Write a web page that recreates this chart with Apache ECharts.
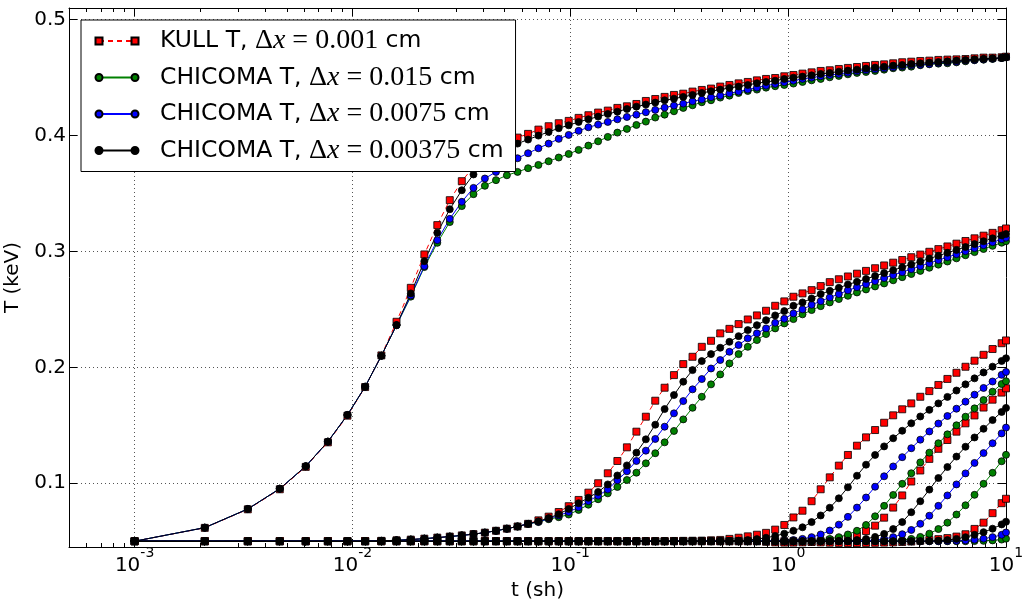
<!DOCTYPE html>
<html><head><meta charset="utf-8">
<script src="https://cdn.jsdelivr.net/npm/echarts/dist/echarts.min.js"></script>
<style>html,body{margin:0;padding:0;background:#fff}#c{width:1024px;height:601px}</style>
</head><body><div id="c"></div>
<script>
// time samples (sh)
const tSh = [0.001,0.0021,0.00331,0.004641,0.006105,0.007716,0.009487,0.011436,0.013579,0.015937,
0.018531,0.021384,0.024523,0.027975,0.031772,0.03595,0.040545,0.045599,0.051159,0.057275,
0.064003,0.071403,0.079543,0.088497,0.098347,0.109182,0.1211,0.13421,0.148631,0.164494,
0.181943,0.201138,0.222252,0.245477,0.271024,0.299127,0.33004,0.364043,0.401448,0.442593,
0.487852,0.537637,0.592401,0.652641,0.718905,0.791795,0.871975,0.960172,1.05719,1.163909,
1.281299,1.410429,1.552472,1.708719,1.880591,2.069651,2.2776,2.506377,2.758014,3.034816,
3.339298,3.674228,4.042651,4.447916,4.893708,5.384078,5.923486,6.516834,7.169518,7.88747,
8.677217,9.549938,10.0];

// KULL T, dx=0.001 cm
const kull1 = [0.05,0.0615,0.0775,0.0948,0.1141,0.1353,0.1583,0.1830,0.2103,0.2393,
0.2686,0.2974,0.3227,0.3442,0.3606,0.3730,0.3820,0.3885,0.3937,0.3982,
0.4014,0.4051,0.4080,0.4106,0.4126,0.4152,0.4175,0.4198,0.4215,0.4238,
0.4252,0.4272,0.4298,0.4315,0.4333,0.4350,0.4361,0.4379,0.4393,0.4405,
0.4422,0.4436,0.4450,0.4462,0.4476,0.4488,0.4496,0.4511,0.4522,0.4534,
0.4545,0.4557,0.4563,0.4574,0.4583,0.4591,0.4600,0.4609,0.4614,0.4623,
0.4632,0.4637,0.4643,0.4646,0.4652,0.4655,0.4657,0.4660,0.4666,0.4672,
0.4672,0.4675,0.4680];
const kull2 = [0.05,0.05,0.05,0.05,0.05,0.05,0.05,0.05,0.0503,0.0508,
0.0514,0.0522,0.0531,0.0540,0.0550,0.0561,0.0574,0.0590,0.0608,0.0627,
0.0650,0.0680,0.0712,0.0752,0.0802,0.0856,0.0919,0.1000,0.1086,0.1192,
0.1310,0.1445,0.1574,0.1712,0.1824,0.1933,0.2028,0.2091,0.2177,0.2229,
0.2293,0.2332,0.2373,0.2413,0.2448,0.2488,0.2531,0.2569,0.2609,0.2638,
0.2666,0.2701,0.2735,0.2760,0.2784,0.2808,0.2832,0.2855,0.2879,0.2903,
0.2926,0.2950,0.2973,0.2997,0.3020,0.3043,0.3067,0.3090,0.3113,0.3136,
0.3160,0.3183,0.3198];
const kull3 = [0.05,0.05,0.05,0.05,0.05,0.05,0.05,0.05,0.05,0.05,
0.05,0.05,0.05,0.05,0.05,0.05,0.05,0.05,0.05,0.05,
0.05,0.05,0.05,0.05,0.05,0.05,0.05,0.05,0.05,0.05,
0.05,0.05,0.05,0.05,0.05,0.0502,0.0503,0.0504,0.0505,0.0508,
0.0511,0.0520,0.0530,0.0542,0.0556,0.0572,0.0600,0.0640,0.0705,0.0763,
0.0845,0.0948,0.1051,0.1152,0.1244,0.1324,0.1396,0.1459,0.1522,0.1586,
0.1638,0.1689,0.1746,0.1795,0.1848,0.1900,0.1953,0.2005,0.2057,0.2108,
0.2158,0.2208,0.2232];
const kull4 = [0.05,0.05,0.05,0.05,0.05,0.05,0.05,0.05,0.05,0.05,
0.05,0.05,0.05,0.05,0.05,0.05,0.05,0.05,0.05,0.05,
0.05,0.05,0.05,0.05,0.05,0.05,0.05,0.05,0.05,0.05,
0.05,0.05,0.05,0.05,0.05,0.05,0.05,0.05,0.05,0.05,
0.05,0.05,0.05,0.05,0.05,0.0495,0.0490,0.0488,0.0488,0.0490,
0.0494,0.0500,0.0507,0.0515,0.0527,0.0548,0.0588,0.0634,0.0703,0.0790,
0.0895,0.1015,0.1110,0.1210,0.1297,0.1373,0.1445,0.1517,0.1585,0.1653,
0.1721,0.1782,0.1819];
const kull5 = [0.05,0.05,0.05,0.05,0.05,0.05,0.05,0.05,0.05,0.05,
0.05,0.05,0.05,0.05,0.05,0.05,0.05,0.05,0.05,0.05,
0.05,0.05,0.05,0.05,0.05,0.05,0.05,0.05,0.05,0.05,
0.05,0.05,0.05,0.05,0.05,0.05,0.05,0.05,0.05,0.05,
0.05,0.05,0.05,0.05,0.05,0.05,0.05,0.05,0.05,0.05,
0.0495,0.0490,0.0487,0.0485,0.0484,0.0484,0.0485,0.0486,0.0488,0.0490,
0.0493,0.0497,0.0503,0.0510,0.0518,0.0527,0.0540,0.0560,0.0606,0.0660,
0.0742,0.0828,0.0866];

// CHICOMA T, dx=0.015 cm
const c015_1 = [0.05,0.0617,0.0778,0.0953,0.1147,0.1359,0.1589,0.1833,0.2100,0.2364,
0.2610,0.2865,0.3074,0.3253,0.3391,0.3494,0.3566,0.3615,0.3657,0.3686,
0.3718,0.3746,0.3778,0.3810,0.3841,0.3876,0.3913,0.3950,0.3988,0.4025,
0.4057,0.4091,0.4120,0.4155,0.4180,0.4209,0.4238,0.4261,0.4287,0.4304,
0.4327,0.4344,0.4367,0.4384,0.4396,0.4413,0.4425,0.4436,0.4448,0.4462,
0.4476,0.4488,0.4502,0.4514,0.4528,0.4540,0.4548,0.4557,0.4568,0.4580,
0.4586,0.4594,0.4606,0.4614,0.4620,0.4623,0.4631,0.4640,0.4649,0.4654,
0.4660,0.4669,0.4677];
const c015_2 = [0.05,0.05,0.05,0.05,0.05,0.05,0.05,0.05,0.0503,0.0508,
0.0514,0.0522,0.0531,0.0540,0.0550,0.0561,0.0574,0.0590,0.0608,0.0627,
0.0650,0.0665,0.0690,0.0707,0.0730,0.0770,0.0815,0.0862,0.0913,0.0968,
0.1028,0.1091,0.1172,0.1259,0.1353,0.1451,0.1551,0.1651,0.1746,0.1853,
0.1939,0.2034,0.2114,0.2177,0.2235,0.2287,0.2336,0.2379,0.2416,0.2457,
0.2494,0.2528,0.2560,0.2589,0.2617,0.2646,0.2672,0.2698,0.2724,0.2751,
0.2778,0.2805,0.2832,0.2859,0.2886,0.2913,0.2940,0.2967,0.2994,0.3021,
0.3048,0.3075,0.3088];
const c015_3 = [0.05,0.05,0.05,0.05,0.05,0.05,0.05,0.05,0.05,0.05,
0.05,0.05,0.05,0.05,0.05,0.05,0.05,0.05,0.05,0.05,
0.05,0.05,0.05,0.05,0.05,0.05,0.05,0.05,0.05,0.05,
0.05,0.05,0.05,0.05,0.05,0.05,0.05,0.05,0.05,0.05,
0.05,0.05,0.05,0.05,0.05,0.05,0.05,0.05,0.05,0.0502,
0.0505,0.0510,0.0520,0.0535,0.0558,0.0590,0.0640,0.0715,0.0805,0.0899,
0.0995,0.1086,0.1180,0.1264,0.1345,0.1422,0.1500,0.1574,0.1646,0.1718,
0.1790,0.1856,0.1880];
const c015_4 = [0.05,0.05,0.05,0.05,0.05,0.05,0.05,0.05,0.05,0.05,
0.05,0.05,0.05,0.05,0.05,0.05,0.05,0.05,0.05,0.05,
0.05,0.05,0.05,0.05,0.05,0.05,0.05,0.05,0.05,0.05,
0.05,0.05,0.05,0.05,0.05,0.05,0.05,0.05,0.05,0.05,
0.05,0.05,0.05,0.05,0.05,0.05,0.05,0.05,0.05,0.05,
0.05,0.05,0.05,0.05,0.05,0.05,0.05,0.05,0.0502,0.0505,
0.0510,0.0520,0.0537,0.0565,0.0605,0.0660,0.0730,0.0810,0.0900,0.0995,
0.1090,0.1190,0.1245];
const c015_5 = [0.05,0.05,0.05,0.05,0.05,0.05,0.05,0.05,0.05,0.05,
0.05,0.05,0.05,0.05,0.05,0.05,0.05,0.05,0.05,0.05,
0.05,0.05,0.05,0.05,0.05,0.05,0.05,0.05,0.05,0.05,
0.05,0.05,0.05,0.05,0.05,0.05,0.05,0.05,0.05,0.05,
0.05,0.05,0.05,0.05,0.05,0.05,0.05,0.05,0.05,0.05,
0.05,0.05,0.05,0.05,0.05,0.05,0.05,0.05,0.05,0.05,
0.05,0.05,0.05,0.05,0.05,0.05,0.05,0.05,0.0501,0.0503,
0.0507,0.0514,0.0522];

// CHICOMA T, dx=0.0075 cm
const c0075_1 = [0.05,0.0617,0.0778,0.0953,0.1147,0.1359,0.1589,0.1833,0.2100,0.2364,
0.2620,0.2873,0.3097,0.3281,0.3428,0.3548,0.3629,0.3686,0.3745,0.3804,
0.3847,0.3890,0.3930,0.3971,0.4005,0.4040,0.4071,0.4094,0.4117,0.4140,
0.4160,0.4180,0.4201,0.4221,0.4241,0.4258,0.4275,0.4295,0.4310,0.4330,
0.4344,0.4364,0.4379,0.4396,0.4413,0.4430,0.4445,0.4459,0.4473,0.4488,
0.4499,0.4511,0.4522,0.4531,0.4542,0.4554,0.4563,0.4571,0.4580,0.4589,
0.4597,0.4606,0.4611,0.4617,0.4626,0.4632,0.4637,0.4646,0.4652,0.4657,
0.4663,0.4669,0.4675];
const c0075_2 = [0.05,0.05,0.05,0.05,0.05,0.05,0.05,0.05,0.0503,0.0508,
0.0514,0.0522,0.0531,0.0540,0.0550,0.0561,0.0574,0.0590,0.0608,0.0627,
0.0650,0.0668,0.0695,0.0722,0.0752,0.0793,0.0845,0.0893,0.0946,0.1025,
0.1103,0.1192,0.1281,0.1382,0.1488,0.1603,0.1709,0.1810,0.1899,0.1990,
0.2063,0.2134,0.2192,0.2250,0.2293,0.2336,0.2384,0.2419,0.2465,0.2500,
0.2539,0.2571,0.2603,0.2632,0.2664,0.2691,0.2718,0.2744,0.2770,0.2796,
0.2821,0.2847,0.2873,0.2899,0.2925,0.2950,0.2976,0.3002,0.3028,0.3054,
0.3079,0.3105,0.3118];
const c0075_3 = [0.05,0.05,0.05,0.05,0.05,0.05,0.05,0.05,0.05,0.05,
0.05,0.05,0.05,0.05,0.05,0.05,0.05,0.05,0.05,0.05,
0.05,0.05,0.05,0.05,0.05,0.05,0.05,0.05,0.05,0.05,
0.05,0.05,0.05,0.05,0.05,0.05,0.05,0.05,0.05,0.05,
0.05,0.05,0.05,0.05,0.05,0.05,0.0502,0.0505,0.0510,0.0520,
0.0535,0.0558,0.0592,0.0643,0.0710,0.0790,0.0877,0.0970,0.1060,0.1145,
0.1225,0.1302,0.1376,0.1447,0.1515,0.1580,0.1643,0.1704,0.1764,0.1822,
0.1878,0.1935,0.1960];
const c0075_4 = [0.05,0.05,0.05,0.05,0.05,0.05,0.05,0.05,0.05,0.05,
0.05,0.05,0.05,0.05,0.05,0.05,0.05,0.05,0.05,0.05,
0.05,0.05,0.05,0.05,0.05,0.05,0.05,0.05,0.05,0.05,
0.05,0.05,0.05,0.05,0.05,0.05,0.05,0.05,0.05,0.05,
0.05,0.05,0.05,0.05,0.05,0.05,0.05,0.05,0.05,0.05,
0.05,0.05,0.05,0.05,0.05,0.0502,0.0505,0.0510,0.0520,0.0535,
0.0560,0.0597,0.0650,0.0720,0.0805,0.0895,0.0990,0.1085,0.1175,0.1260,
0.1345,0.1430,0.1480];
const c0075_5 = [0.05,0.05,0.05,0.05,0.05,0.05,0.05,0.05,0.05,0.05,
0.05,0.05,0.05,0.05,0.05,0.05,0.05,0.05,0.05,0.05,
0.05,0.05,0.05,0.05,0.05,0.05,0.05,0.05,0.05,0.05,
0.05,0.05,0.05,0.05,0.05,0.05,0.05,0.05,0.05,0.05,
0.05,0.05,0.05,0.05,0.05,0.05,0.05,0.05,0.05,0.05,
0.05,0.05,0.05,0.05,0.05,0.05,0.05,0.05,0.05,0.05,
0.05,0.05,0.05,0.05,0.05,0.0501,0.0503,0.0507,0.0513,0.0522,
0.0535,0.0555,0.0575];

// CHICOMA T, dx=0.00375 cm
const c00375_1 = [0.05,0.0617,0.0778,0.0953,0.1147,0.1359,0.1589,0.1833,0.2100,0.2364,
0.2638,0.2916,0.3160,0.3364,0.3528,0.3664,0.3760,0.3825,0.3880,0.3930,
0.3965,0.3999,0.4031,0.4063,0.4088,0.4117,0.4140,0.4163,0.4186,0.4206,
0.4229,0.4249,0.4267,0.4284,0.4304,0.4318,0.4333,0.4350,0.4367,0.4382,
0.4396,0.4410,0.4422,0.4436,0.4451,0.4462,0.4473,0.4488,0.4499,0.4508,
0.4519,0.4531,0.4540,0.4551,0.4560,0.4568,0.4577,0.4586,0.4594,0.4603,
0.4609,0.4617,0.4623,0.4629,0.4634,0.4640,0.4646,0.4652,0.4657,0.4663,
0.4666,0.4669,0.4675];
const c00375_2 = [0.05,0.05,0.05,0.05,0.05,0.05,0.05,0.05,0.0503,0.0508,
0.0514,0.0522,0.0531,0.0540,0.0550,0.0561,0.0574,0.0590,0.0608,0.0627,
0.0650,0.0672,0.0700,0.0733,0.0778,0.0828,0.0875,0.0925,0.0990,0.1067,
0.1154,0.1264,0.1379,0.1505,0.1640,0.1761,0.1876,0.1976,0.2054,0.2114,
0.2169,0.2220,0.2269,0.2321,0.2364,0.2407,0.2448,0.2485,0.2531,0.2560,
0.2594,0.2632,0.2660,0.2686,0.2715,0.2738,0.2763,0.2788,0.2813,0.2838,
0.2863,0.2888,0.2913,0.2938,0.2963,0.2988,0.3013,0.3038,0.3063,0.3088,
0.3113,0.3138,0.3150];
const c00375_3 = [0.05,0.05,0.05,0.05,0.05,0.05,0.05,0.05,0.05,0.05,
0.05,0.05,0.05,0.05,0.05,0.05,0.05,0.05,0.05,0.05,
0.05,0.05,0.05,0.05,0.05,0.05,0.05,0.05,0.05,0.05,
0.05,0.05,0.05,0.05,0.05,0.05,0.05,0.05,0.05,0.05,
0.05,0.0502,0.0505,0.0510,0.0518,0.0530,0.0545,0.0565,0.0590,0.0620,
0.0665,0.0722,0.0789,0.0870,0.0965,0.1065,0.1160,0.1244,0.1318,0.1388,
0.1453,0.1517,0.1576,0.1633,0.1689,0.1745,0.1800,0.1853,0.1905,0.1956,
0.2006,0.2055,0.2078];
const c00375_4 = [0.05,0.05,0.05,0.05,0.05,0.05,0.05,0.05,0.05,0.05,
0.05,0.05,0.05,0.05,0.05,0.05,0.05,0.05,0.05,0.05,
0.05,0.05,0.05,0.05,0.05,0.05,0.05,0.05,0.05,0.05,
0.05,0.05,0.05,0.05,0.05,0.05,0.05,0.05,0.05,0.05,
0.05,0.05,0.05,0.05,0.05,0.05,0.05,0.05,0.05,0.05,
0.05,0.05,0.05,0.0502,0.0505,0.0510,0.0520,0.0537,0.0563,0.0605,
0.0665,0.0750,0.0845,0.0945,0.1045,0.1140,0.1230,0.1315,0.1395,0.1470,
0.1545,0.1615,0.1650];
const c00375_5 = [0.05,0.05,0.05,0.05,0.05,0.05,0.05,0.05,0.05,0.05,
0.05,0.05,0.05,0.05,0.05,0.05,0.05,0.05,0.05,0.05,
0.05,0.05,0.05,0.05,0.05,0.05,0.05,0.05,0.05,0.05,
0.05,0.05,0.05,0.05,0.05,0.05,0.05,0.05,0.05,0.05,
0.05,0.05,0.05,0.05,0.05,0.05,0.05,0.05,0.05,0.05,
0.05,0.05,0.05,0.05,0.05,0.05,0.05,0.05,0.05,0.05,
0.05,0.05,0.05,0.0502,0.0505,0.0510,0.0520,0.0535,0.0555,0.0578,
0.0608,0.0645,0.0668];

const seriesNames = ['KULL T, \u0394x=0.001 cm','CHICOMA T, \u0394x=0.015 cm','CHICOMA T, \u0394x=0.0075 cm','CHICOMA T, \u0394x=0.00375 cm'];
const codeNames = ['KULL T','CHICOMA T','CHICOMA T','CHICOMA T'];
const dxLabels = ['0.001','0.015','0.0075','0.00375'];
const yTickLabels = ['0.1','0.2','0.3','0.4','0.5'];

const groups = [
  {name: seriesNames[0], color:'#ff0000', symbol:'rect', size:7, line:[5,4], curves:[kull1,kull2,kull3,kull4,kull5]},
  {name: seriesNames[1], color:'#008000', symbol:'circle', size:7, line:'solid', curves:[c015_1,c015_2,c015_3,c015_4,c015_5]},
  {name: seriesNames[2], color:'#0000ff', symbol:'circle', size:7, line:'solid', curves:[c0075_1,c0075_2,c0075_3,c0075_4,c0075_5]},
  {name: seriesNames[3], color:'#000000', symbol:'circle', size:7, line:'solid', curves:[c00375_1,c00375_2,c00375_3,c00375_4,c00375_5]}
];

const series = [];
groups.forEach(g => g.curves.forEach(c => series.push({
  type:'line', name:g.name, xAxisIndex:0, yAxisIndex:0,
  data: tSh.map((t,i) => [t, c[i]]),
  symbol:g.symbol, symbolSize:g.size, showSymbol:true, showAllSymbol:true,
  lineStyle:{color:g.color, width:1, type:g.line},
  itemStyle:{color:g.color, borderColor:'#000', borderWidth:0.8},
  emphasis:{disabled:true}, silent:true, animation:false
})));

const FONT = 'DejaVu Sans';
const tickColor = '#000';
const gridLine = {show:true, lineStyle:{color:'#555', width:1, type:[1,3]}};

function xLabel(v){
  const l = Math.log10(v), e = Math.round(l);
  if (Math.abs(l - e) > 1e-6) return '';
  return '{b|10}{s|' + e + '}';
}
function yLabel(v){
  const s = v.toFixed(1);
  return yTickLabels.indexOf(s) >= 0 && Math.abs(v - parseFloat(s)) < 1e-9 ? s : '';
}
function legendText(name){
  const i = seriesNames.indexOf(name);
  return '{sp|}{a|' + codeNames[i] + ', }{m|\u0394}{i|x}{m| = ' + dxLabels[i] + '}{a| cm}';
}
function legendRich(color, spW){
  return {
    sp:{width:spW, lineHeight:26},
    a:{fontFamily:FONT, fontSize:23.5, color:color, lineHeight:26},
    m:{fontFamily:'Liberation Serif', fontSize:28, color:color, lineHeight:26},
    i:{fontFamily:'Liberation Serif', fontStyle:'italic', fontSize:28, color:color, lineHeight:26}
  };
}
// legend marker pairs (two markers at the ends of the sample line)
const squarePair = 'path://M0,0 L7,0 L7,7 L0,7 Z M36,0 L43,0 L43,7 L36,7 Z';
const circlePair = 'path://M0,3.5 A3.5,3.5 0 1,1 7,3.5 A3.5,3.5 0 1,1 0,3.5 Z M36,3.5 A3.5,3.5 0 1,1 43,3.5 A3.5,3.5 0 1,1 36,3.5 Z';

const chart = echarts.init(document.getElementById('c'), null, {renderer:'canvas'});
chart.setOption({
  animation:false,
  backgroundColor:'#fff',
  textStyle:{fontFamily:FONT, color:'#000'},
  grid:{left:69, right:18, top:8, bottom:54, containLabel:false, outerBoundsMode:'none'},
  legend:[{
    // box + sample lines
    data: seriesNames, orient:'vertical', left:81, top:20, z:4,
    backgroundColor:'#fff', borderColor:'#000', borderWidth:1, borderRadius:0,
    padding:[7,12,7,17], itemGap:8.5, itemWidth:36, itemHeight:7,
    selectedMode:false, itemStyle:{opacity:0},
    formatter: legendText,
    textStyle:{fontFamily:FONT, fontSize:23.5, color:'rgba(0,0,0,0)', lineHeight:26, rich:legendRich('rgba(0,0,0,0)', 20)}
  },{
    // markers + text
    data: seriesNames.map((n,i) => ({name:n, icon: i === 0 ? squarePair : circlePair})),
    orient:'vertical', left:81, top:20, z:5,
    backgroundColor:'transparent', borderWidth:0,
    padding:[7,12,7,13.5], itemGap:8.5, itemWidth:43, itemHeight:7,
    selectedMode:false,
    formatter: legendText,
    textStyle:{fontFamily:FONT, fontSize:23.5, color:'#000', lineHeight:26, rich:legendRich('#000', 16.5)}
  }],
  xAxis:[{
    type:'log', logBase:10, min:0.0005, max:10, position:'bottom',
    name:'t (sh)', nameLocation:'middle', nameGap:25,
    nameTextStyle:{fontFamily:FONT, fontSize:20, color:'#000'},
    axisLine:{show:true, onZero:false, lineStyle:{color:'#000', width:1}},
    axisTick:{show:true, inside:true, length:8, lineStyle:{color:tickColor}},
    minorTick:{show:true, splitNumber:9, length:4, lineStyle:{color:tickColor}},
    axisLabel:{show:true, margin:-1, formatter:xLabel, color:'#000',
      rich:{b:{fontFamily:FONT, fontSize:20, verticalAlign:'bottom', lineHeight:30},
            s:{fontFamily:FONT, fontSize:14, verticalAlign:'top', lineHeight:16}}},
    splitLine:gridLine
  },{
    type:'log', logBase:10, min:0.0005, max:10, position:'top',
    axisLine:{show:true, onZero:false, lineStyle:{color:'#000', width:1}},
    axisTick:{show:true, inside:true, length:8, lineStyle:{color:tickColor}},
    minorTick:{show:true, splitNumber:9, length:4, lineStyle:{color:tickColor}},
    axisLabel:{show:false}, splitLine:{show:false}
  }],
  yAxis:[{
    type:'value', min:0.045, max:0.51, position:'left',
    name:'T (keV)', nameLocation:'middle', nameGap:34,
    nameTextStyle:{fontFamily:FONT, fontSize:20, color:'#000'},
    axisLine:{show:true, onZero:false, lineStyle:{color:'#000', width:1}},
    axisTick:{show:true, inside:true, length:8, lineStyle:{color:tickColor}},
    axisLabel:{show:true, margin:3, formatter:yLabel, fontFamily:FONT, fontSize:20, color:'#000', showMinLabel:false, showMaxLabel:false},
    splitLine:gridLine
  },{
    type:'value', min:0.045, max:0.51, position:'right',
    axisLine:{show:true, onZero:false, lineStyle:{color:'#000', width:1}},
    axisTick:{show:true, inside:true, length:8, lineStyle:{color:tickColor}},
    axisLabel:{show:false}, splitLine:{show:false}
  }],
  series: series
});
</script></body></html>
